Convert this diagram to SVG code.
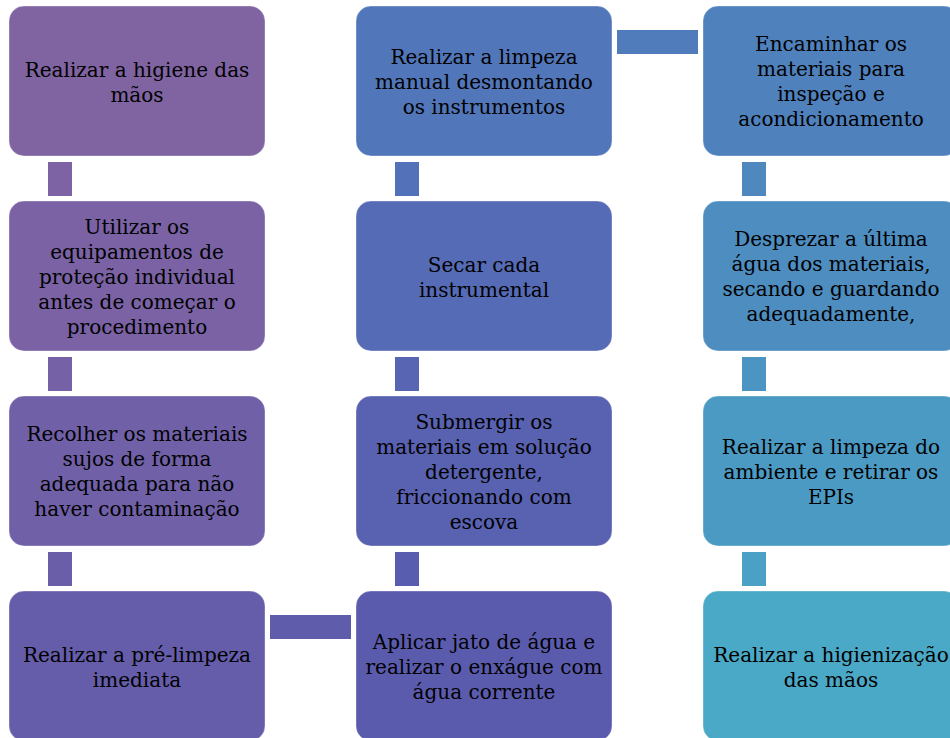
<svg xmlns="http://www.w3.org/2000/svg" width="950" height="738" viewBox="0 0 950 738">
<style>
.n{stroke:#ffffff;stroke-opacity:0.35;stroke-width:1}
.t{font-family:"DejaVu Serif","Liberation Serif",serif;font-size:20px;fill:#000000;text-anchor:middle}
</style>
<rect width="950" height="738" fill="#ffffff"/>
<g id="connectors">
<rect x="48" y="162" width="24" height="34" fill="#7D63A3"/>
<rect x="48" y="357" width="24" height="34" fill="#7461A6"/>
<rect x="48" y="552" width="24" height="34" fill="#6A5EA9"/>
<rect x="270" y="615" width="81" height="24" fill="#605CAC"/>
<rect x="395" y="552" width="24" height="34" fill="#595DAF"/>
<rect x="395" y="357" width="24" height="34" fill="#5765B3"/>
<rect x="395" y="162" width="24" height="34" fill="#5371B8"/>
<rect x="617" y="30" width="81" height="24" fill="#507CBB"/>
<rect x="742" y="162" width="24" height="34" fill="#4E88BF"/>
<rect x="742" y="357" width="24" height="34" fill="#4C94C1"/>
<rect x="742" y="552" width="24" height="34" fill="#4BA1C5"/>
</g>
<g id="n1">
<rect class="n" x="9" y="6" width="256" height="150" rx="15" fill="#8064A2"/>
<text class="t"><tspan x="137" y="77">Realizar a higiene das</tspan><tspan x="137" y="102">mãos</tspan></text>
</g>
<g id="n2">
<rect class="n" x="9" y="201" width="256" height="150" rx="15" fill="#7A62A5"/>
<text class="t"><tspan x="137" y="234">Utilizar os</tspan><tspan x="137" y="259">equipamentos de</tspan><tspan x="137" y="284">proteção individual</tspan><tspan x="137" y="309">antes de começar o</tspan><tspan x="137" y="334">procedimento</tspan></text>
</g>
<g id="n3">
<rect class="n" x="9" y="396" width="256" height="150" rx="15" fill="#7060A8"/>
<text class="t"><tspan x="137" y="441">Recolher os materiais</tspan><tspan x="137" y="466">sujos de forma</tspan><tspan x="137" y="491">adequada para não</tspan><tspan x="137" y="516">haver contaminação</tspan></text>
</g>
<g id="n4">
<rect class="n" x="9" y="591" width="256" height="150" rx="15" fill="#655DAA"/>
<text class="t"><tspan x="137" y="662">Realizar a pré-limpeza</tspan><tspan x="137" y="687">imediata</tspan></text>
</g>
<g id="n5">
<rect class="n" x="356" y="591" width="256" height="150" rx="15" fill="#5B5BAE"/>
<text class="t"><tspan x="484" y="649">Aplicar jato de água e</tspan><tspan x="484" y="674">realizar o enxágue com</tspan><tspan x="484" y="699">água corrente</tspan></text>
</g>
<g id="n6">
<rect class="n" x="356" y="396" width="256" height="150" rx="15" fill="#5961B1"/>
<text class="t"><tspan x="484" y="429">Submergir os</tspan><tspan x="484" y="454">materiais em solução</tspan><tspan x="484" y="479">detergente,</tspan><tspan x="484" y="504">friccionando com</tspan><tspan x="484" y="529">escova</tspan></text>
</g>
<g id="n7">
<rect class="n" x="356" y="201" width="256" height="150" rx="15" fill="#566BB5"/>
<text class="t"><tspan x="484" y="272">Secar cada</tspan><tspan x="484" y="297">instrumental</tspan></text>
</g>
<g id="n8">
<rect class="n" x="356" y="6" width="256" height="150" rx="15" fill="#5177BA"/>
<text class="t"><tspan x="484" y="64">Realizar a limpeza</tspan><tspan x="484" y="89">manual desmontando</tspan><tspan x="484" y="114">os instrumentos</tspan></text>
</g>
<g id="n9">
<rect class="n" x="703" y="6" width="256" height="150" rx="15" fill="#4F81BD"/>
<text class="t"><tspan x="831" y="51">Encaminhar os</tspan><tspan x="831" y="76">materiais para</tspan><tspan x="831" y="101">inspeção e</tspan><tspan x="831" y="126">acondicionamento</tspan></text>
</g>
<g id="n10">
<rect class="n" x="703" y="201" width="256" height="150" rx="15" fill="#4D8DC0"/>
<text class="t"><tspan x="831" y="246">Desprezar a última</tspan><tspan x="831" y="271">água dos materiais,</tspan><tspan x="831" y="296">secando e guardando</tspan><tspan x="831" y="321">adequadamente,</tspan></text>
</g>
<g id="n11">
<rect class="n" x="703" y="396" width="256" height="150" rx="15" fill="#4B9AC3"/>
<text class="t"><tspan x="831" y="454">Realizar a limpeza do</tspan><tspan x="831" y="479">ambiente e retirar os</tspan><tspan x="831" y="504">EPIs</tspan></text>
</g>
<g id="n12">
<rect class="n" x="703" y="591" width="256" height="150" rx="15" fill="#4AA9C6"/>
<text class="t"><tspan x="831" y="662">Realizar a higienização</tspan><tspan x="831" y="687">das mãos</tspan></text>
</g>
</svg>
